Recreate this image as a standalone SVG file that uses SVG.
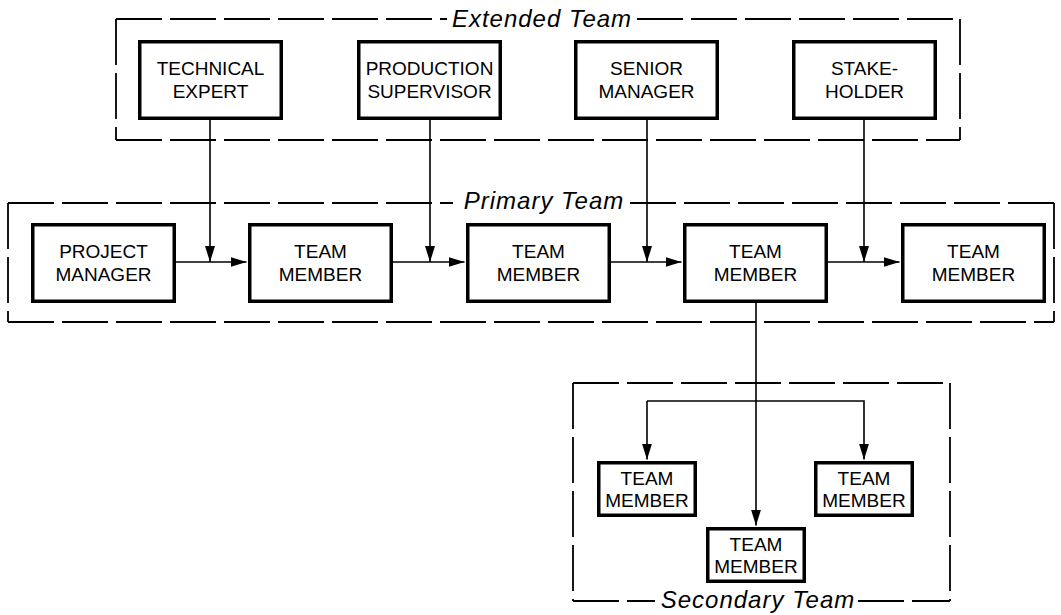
<svg xmlns="http://www.w3.org/2000/svg" width="1061" height="615" viewBox="0 0 1061 615">
  <style>
    .node rect { fill: #fff; stroke: #000; stroke-width: 3.5; }
    .node text { font-family: "Liberation Sans", Arial, sans-serif; font-size: 19px; fill: #000; text-anchor: middle; }
    .team line { stroke: #000; stroke-width: 1.8; stroke-dasharray: 46 8; fill: none; }
    .team text { font-family: "Liberation Sans", Arial, sans-serif; font-style: italic; font-size: 24px; letter-spacing: 1px; fill: #000; text-anchor: middle; }
    .conn line, .conn path { stroke: #000; stroke-width: 1.6; fill: none; }
  </style>
  <defs>
    <marker id="arrow" markerUnits="userSpaceOnUse" markerWidth="16" markerHeight="10" refX="16" refY="5" orient="auto">
      <path d="M0,0 L16,5 L0,10 Z" fill="#000"/>
    </marker>
  </defs>
  <rect width="1061" height="615" fill="#fff"/>

  <!-- team boundaries -->
  <g id="extended-team" class="team">
    <line x1="116" y1="19" x2="447" y2="19"/>
    <line x1="637" y1="19" x2="960" y2="19"/>
    <line x1="960" y1="19" x2="960" y2="140"/>
    <line x1="116" y1="140" x2="960" y2="140"/>
    <line x1="116" y1="19" x2="116" y2="140"/>
    <text x="542" y="27">Extended Team</text>
  </g>
  <g id="primary-team" class="team">
    <line x1="8" y1="203" x2="453" y2="203"/>
    <line x1="630" y1="203" x2="1054" y2="203"/>
    <line x1="1054" y1="203" x2="1054" y2="322"/>
    <line x1="8" y1="322" x2="1054" y2="322"/>
    <line x1="8" y1="203" x2="8" y2="322"/>
    <text x="544" y="209">Primary Team</text>
  </g>
  <g id="secondary-team" class="team">
    <line x1="573" y1="383" x2="950" y2="383"/>
    <line x1="950" y1="383" x2="950" y2="601"/>
    <line x1="573" y1="601" x2="655" y2="601"/>
    <line x1="858" y1="601" x2="950" y2="601"/>
    <line x1="573" y1="383" x2="573" y2="601"/>
    <text x="758" y="608">Secondary Team</text>
  </g>

  <!-- connectors -->
  <g id="connectors" class="conn">
    <line x1="210" y1="120" x2="210" y2="262" marker-end="url(#arrow)"/>
    <line x1="430" y1="120" x2="430" y2="262" marker-end="url(#arrow)"/>
    <line x1="647" y1="120" x2="647" y2="262" marker-end="url(#arrow)"/>
    <line x1="864" y1="120" x2="864" y2="262" marker-end="url(#arrow)"/>
    <line x1="176" y1="262" x2="246.5" y2="262" marker-end="url(#arrow)"/>
    <line x1="393" y1="262" x2="464.5" y2="262" marker-end="url(#arrow)"/>
    <line x1="611" y1="262" x2="681.5" y2="262" marker-end="url(#arrow)"/>
    <line x1="828" y1="262" x2="899.5" y2="262" marker-end="url(#arrow)"/>
    <line x1="756" y1="303" x2="756" y2="525.5" marker-end="url(#arrow)"/>
    <path d="M647,401 H864 V459.5" marker-end="url(#arrow)"/>
    <line x1="647" y1="401" x2="647" y2="459.5" marker-end="url(#arrow)"/>
  </g>

  <!-- extended team members -->
  <g id="technical-expert" class="node">
    <rect x="139.75" y="41.75" width="141.5" height="76.5"/>
    <text x="210.5" y="75">TECHNICAL</text>
    <text x="210.5" y="98">EXPERT</text>
  </g>
  <g id="production-supervisor" class="node">
    <rect x="358.75" y="41.75" width="141.5" height="76.5"/>
    <text x="429.5" y="75">PRODUCTION</text>
    <text x="429.5" y="98">SUPERVISOR</text>
  </g>
  <g id="senior-manager" class="node">
    <rect x="575.75" y="41.75" width="141.5" height="76.5"/>
    <text x="646.5" y="75">SENIOR</text>
    <text x="646.5" y="98">MANAGER</text>
  </g>
  <g id="stakeholder" class="node">
    <rect x="793.75" y="41.75" width="141.5" height="76.5"/>
    <text x="864.5" y="75">STAKE-</text>
    <text x="864.5" y="98">HOLDER</text>
  </g>

  <!-- primary team -->
  <g id="project-manager" class="node">
    <rect x="32.75" y="224.75" width="141.5" height="76.5"/>
    <text x="103.5" y="258">PROJECT</text>
    <text x="103.5" y="281">MANAGER</text>
  </g>
  <g id="primary-member-1" class="node">
    <rect x="249.75" y="224.75" width="141.5" height="76.5"/>
    <text x="320.5" y="258">TEAM</text>
    <text x="320.5" y="281">MEMBER</text>
  </g>
  <g id="primary-member-2" class="node">
    <rect x="467.75" y="224.75" width="141.5" height="76.5"/>
    <text x="538.5" y="258">TEAM</text>
    <text x="538.5" y="281">MEMBER</text>
  </g>
  <g id="primary-member-3" class="node">
    <rect x="684.75" y="224.75" width="141.5" height="76.5"/>
    <text x="755.5" y="258">TEAM</text>
    <text x="755.5" y="281">MEMBER</text>
  </g>
  <g id="primary-member-4" class="node">
    <rect x="902.75" y="224.75" width="141.5" height="76.5"/>
    <text x="973.5" y="258">TEAM</text>
    <text x="973.5" y="281">MEMBER</text>
  </g>

  <!-- secondary team -->
  <g id="secondary-member-left" class="node">
    <rect x="598.75" y="462.75" width="96.5" height="52.5"/>
    <text x="647" y="485">TEAM</text>
    <text x="647" y="507">MEMBER</text>
  </g>
  <g id="secondary-member-right" class="node">
    <rect x="815.75" y="462.75" width="96.5" height="52.5"/>
    <text x="864" y="485">TEAM</text>
    <text x="864" y="507">MEMBER</text>
  </g>
  <g id="secondary-member-bottom" class="node">
    <rect x="707.75" y="528.75" width="96.5" height="52.5"/>
    <text x="756" y="551">TEAM</text>
    <text x="756" y="573">MEMBER</text>
  </g>
</svg>
